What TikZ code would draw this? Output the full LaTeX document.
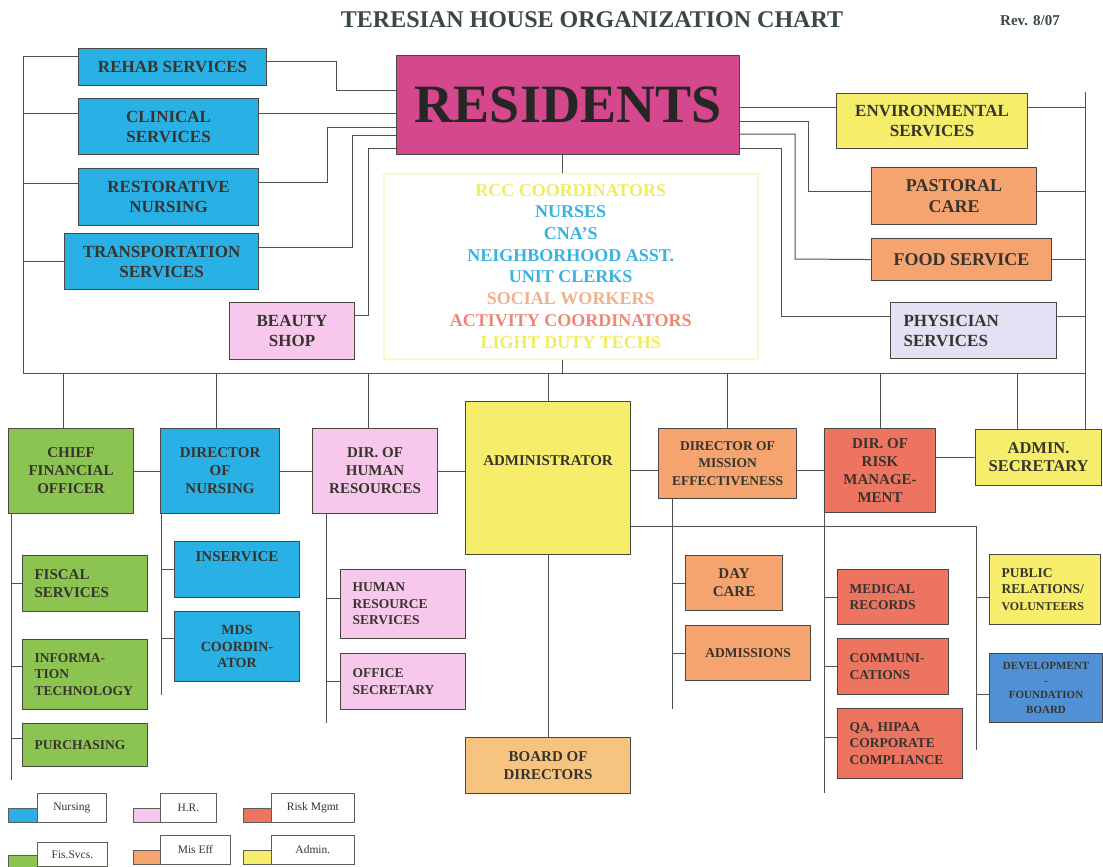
\documentclass[tikz,border=0pt]{standalone}
\usepackage{fontspec}
\setmainfont{Liberation Serif}
\definecolor{nurse}{RGB}{41,177,230}
\definecolor{fis}{RGB}{140,196,82}
\definecolor{hrpink}{RGB}{248,200,236}
\definecolor{admy}{RGB}{246,238,106}
\definecolor{miss}{RGB}{245,164,112}
\definecolor{risk}{RGB}{238,116,98}
\definecolor{resid}{RGB}{213,72,142}
\definecolor{physc}{RGB}{226,226,244}
\definecolor{boardc}{RGB}{247,196,128}
\definecolor{devblue}{RGB}{80,144,214}
\definecolor{ink}{RGB}{55,52,45}
\definecolor{wirec}{RGB}{80,80,80}
\definecolor{titlec}{RGB}{58,72,72}
\definecolor{listframe}{RGB}{248,248,205}
\definecolor{listy}{RGB}{238,236,96}
\definecolor{listb}{RGB}{56,178,226}
\definecolor{lists}{RGB}{240,176,140}
\definecolor{lista}{RGB}{238,134,118}
\tikzset{
  box/.style={draw=ink!90, line width=1.1pt, anchor=north west, inner xsep=4pt, inner ysep=0pt, align=center, text=ink, font=\bfseries\fontsize{15}{18}\selectfont},
  bigbox/.style={box, font=\bfseries\fontsize{17}{20}\selectfont},
  lbox/.style={box, align=left, inner xsep=12pt, font=\bfseries\fontsize{13.5}{16.5}\selectfont},
  wire/.style={draw=wirec, line width=1pt},
  keybox/.style={draw=ink!80, line width=0.8pt, anchor=north west, inner sep=0pt, text=ink, font=\fontsize{11.5}{13}\selectfont}
}
\begin{document}
\begin{tikzpicture}[x=1pt,y=-1pt]
\useasboundingbox (0,0) rectangle (1103,867);

% title
\node[font=\bfseries\fontsize{24}{28}\selectfont, text=titlec] (title) at (592,20) {TERESIAN HOUSE ORGANIZATION CHART};
\node[font=\bfseries\fontsize{15}{18}\selectfont, text=titlec] (rev) at (1030,21) {Rev. 8/07};

% residents and the services round it
\node[box, fill=resid, minimum width=343pt, minimum height=99pt, text=black!85, font=\bfseries\fontsize{54}{60}\selectfont] (res) at (396,55) {RESIDENTS};
\node[bigbox, fill=nurse, minimum width=188pt, minimum height=37pt] (rehab) at (78,48) {REHAB SERVICES};
\node[bigbox, fill=nurse, minimum width=180pt, minimum height=56pt] (clin) at (78,98) {CLINICAL\\SERVICES};
\node[bigbox, fill=nurse, minimum width=180pt, minimum height=57pt] (resto) at (78,168) {RESTORATIVE\\NURSING};
\node[bigbox, fill=nurse, minimum width=194pt, minimum height=56pt] (trans) at (64,233) {TRANSPORTATION\\SERVICES};
\node[bigbox, fill=hrpink, minimum width=125pt, minimum height=57pt] (beauty) at (229,302) {BEAUTY\\SHOP};
\node[bigbox, fill=admy, minimum width=191pt, minimum height=55pt] (env) at (836,93) {ENVIRONMENTAL\\SERVICES};
\node[bigbox, fill=miss, minimum width=165pt, minimum height=57pt, font=\bfseries\fontsize{18}{21}\selectfont] (past) at (871,167) {PASTORAL\\CARE};
\node[bigbox, fill=miss, minimum width=180pt, minimum height=42pt, font=\bfseries\fontsize{18}{21}\selectfont] (food) at (871,238) {FOOD SERVICE};
\node[lbox, fill=physc, inner xsep=13pt, text width=140pt, minimum height=56pt, font=\bfseries\fontsize{17}{20}\selectfont] (phys) at (890,302) {PHYSICIAN\\SERVICES};

% staff list
\node[draw=listframe, line width=1.5pt, anchor=north west, minimum width=374pt, minimum height=185pt, align=center, font=\bfseries\fontsize{18}{21.7}\selectfont] (staff) at (383,173)
  {\textcolor{listy}{RCC COORDINATORS}\\ \textcolor{listb}{NURSES}\\ \textcolor{listb}{CNA'S}\\ \textcolor{listb}{NEIGHBORHOOD ASST.}\\ \textcolor{listb}{UNIT CLERKS}\\ \textcolor{lists}{SOCIAL WORKERS}\\ \textcolor{lista}{ACTIVITY COORDINATORS}\\ \textcolor{listy}{LIGHT DUTY TECHS}};

% second row
\node[box, fill=fis, minimum width=125pt, minimum height=85pt] (cfo) at (8,428) {CHIEF\\FINANCIAL\\OFFICER};
\node[box, fill=nurse, minimum width=119pt, minimum height=85pt] (don) at (160,428) {DIRECTOR\\OF\\NURSING};
\node[box, fill=hrpink, minimum width=125pt, minimum height=85pt] (hr) at (312,428) {DIR. OF\\HUMAN\\RESOURCES};
\node[box, fill=admy, minimum width=165pt, minimum height=153pt, text height=10pt, text depth=35pt] (admin) at (465,401) {ADMINISTRATOR};
\node[box, fill=miss, minimum width=138pt, minimum height=70pt, font=\bfseries\fontsize{13.5}{17.5}\selectfont] (mis) at (658,428) {DIRECTOR OF\\MISSION\\EFFECTIVENESS};
\node[box, fill=risk, minimum width=111pt, minimum height=84pt] (riskm) at (824,428) {DIR. OF\\RISK\\MANAGE-\\MENT};
\node[box, fill=admy, minimum width=126pt, minimum height=56pt, font=\bfseries\fontsize{16.5}{18}\selectfont] (sec) at (975,429) {ADMIN.\\SECRETARY};

% third level
\node[lbox, fill=fis, text width=101pt, minimum height=56pt, font=\bfseries\fontsize{15}{18}\selectfont] (fisc) at (22,555) {FISCAL\\SERVICES};
\node[lbox, fill=fis, text width=101pt, minimum height=70pt] (it) at (22,639) {INFORMA-\\TION\\TECHNOLOGY};
\node[lbox, fill=fis, text width=101pt, minimum height=43pt] (purch) at (22,723) {PURCHASING};
\node[box, fill=nurse, minimum width=125pt, minimum height=56pt, text height=10pt, text depth=26pt] (inserv) at (174,541) {INSERVICE};
\node[box, fill=nurse, minimum width=125pt, minimum height=70pt, font=\bfseries\fontsize{14}{16.5}\selectfont] (mds) at (174,611) {MDS\\COORDIN-\\ATOR};
\node[lbox, fill=hrpink, text width=101pt, minimum height=69pt] (hrs) at (340,569) {HUMAN\\RESOURCE\\SERVICES};
\node[lbox, fill=hrpink, text width=101pt, minimum height=56pt] (office) at (340,653) {OFFICE\\SECRETARY};
\node[box, fill=boardc, minimum width=165pt, minimum height=56pt] (board) at (465,737) {BOARD OF\\DIRECTORS};
\node[box, fill=miss, minimum width=97pt, minimum height=55pt] (day) at (685,555) {DAY\\CARE};
\node[box, fill=miss, minimum width=125pt, minimum height=55pt, font=\bfseries\fontsize{13.5}{16.5}\selectfont] (admis) at (685,625) {ADMISSIONS};
\node[lbox, fill=risk, text width=87pt, minimum height=55pt] (med) at (837,569) {MEDICAL\\RECORDS};
\node[lbox, fill=risk, text width=87pt, minimum height=56pt] (comm) at (837,638) {COMMUNI-\\CATIONS};
\node[lbox, fill=risk, text width=101pt, minimum height=70pt] (qa) at (837,708) {QA, HIPAA\\CORPORATE\\COMPLIANCE};
\node[lbox, fill=admy, text width=87pt, minimum height=70pt] (pr) at (989,554) {PUBLIC\\RELATIONS/\\{\fontsize{12}{15}\selectfont VOLUNTEERS}};
\node[box, fill=devblue, minimum width=113pt, minimum height=69pt, font=\bfseries\fontsize{11}{14.5}\selectfont] (dev) at (989,653) {DEVELOPMENT\\-\\FOUNDATION\\BOARD};

% key
\node[keybox, fill=nurse, minimum width=29pt, minimum height=14pt] (knurse) at (8,808) {};
\node[keybox, minimum width=69pt, minimum height=29pt] (knursel) at (37,793) {Nursing};
\node[keybox, fill=hrpink, minimum width=27pt, minimum height=14pt] (khr) at (133,808) {};
\node[keybox, minimum width=56pt, minimum height=29pt] (khrl) at (160,793) {H.R.};
\node[keybox, fill=risk, minimum width=28pt, minimum height=14pt] (krisk) at (243,808) {};
\node[keybox, minimum width=83pt, minimum height=29pt] (kriskl) at (271,793) {Risk Mgmt};
\node[keybox, fill=fis, minimum width=29pt, minimum height=12pt] (kfis) at (8,855) {};
\node[keybox, minimum width=70pt, minimum height=24pt] (kfisl) at (37,842) {Fis.Svcs.};
\node[keybox, fill=miss, minimum width=27pt, minimum height=14pt] (kmis) at (133,850) {};
\node[keybox, minimum width=70pt, minimum height=29pt] (kmisl) at (160,835) {Mis Eff};
\node[keybox, fill=admy, minimum width=28pt, minimum height=14pt] (kadm) at (243,850) {};
\node[keybox, minimum width=83pt, minimum height=29pt] (kadml) at (271,835) {Admin.};

% buses
\coordinate (lbus) at (23,57);
\coordinate (bus) at (23,373);
\coordinate (rbus) at (1085,92);
\draw[wire] (lbus) -- (bus) -- (bus -| rbus);
\draw[wire] (rbus) -- (rbus |- sec.north);

% left services
\draw[wire] (lbus) -- (lbus -| rehab.west);
\draw[wire] (lbus |- 0,113) -- (clin.west |- 0,113);
\draw[wire] (lbus |- 0,183) -- (resto.west |- 0,183);
\draw[wire] (lbus |- trans.west) -- (trans.west);
\draw[wire] (rehab.east |- 0,62) -| (336,90) -- (res.west |- 0,90);
\draw[wire] (clin.east |- 0,113) -- (res.west |- 0,113);
\draw[wire] (resto.east |- 0,182) -| (327,127) -- (res.west |- 0,127);
\draw[wire] (trans.east |- 0,247) -| (352,135) -- (res.west |- 0,135);
\draw[wire] (beauty.east |- 0,315) -| (368,148) -- (res.west |- 0,148);

% right services
\draw[wire] (res.east |- 0,107) -- (env.west |- 0,107);
\draw[wire] (env.east |- 0,107) -- (rbus |- 0,107);
\draw[wire] (res.east |- 0,121) -| (808,191) -- (past.west |- 0,191);
\draw[wire] (past.east |- 0,191) -- (rbus |- 0,191);
\draw[wire] (res.east |- 0,134) -| (795,259) -- (food.west);
\draw[wire] (food.east) -- (rbus |- food.east);
\draw[wire] (res.east |- 0,148) -| (781,316) -- (phys.west |- 0,316);
\draw[wire] (phys.east |- 0,316) -- (rbus |- 0,316);

% centre column
\draw[wire] (res.south -| 562,0) -- (staff.north -| 562,0);
\draw[wire] (staff.south -| 562,0) -- (bus -| 562,0);

% drops to second row
\draw[wire] (bus -| 63,0) -- (cfo.north -| 63,0);
\draw[wire] (bus -| 216,0) -- (don.north -| 216,0);
\draw[wire] (bus -| 368,0) -- (hr.north -| 368,0);
\draw[wire] (bus -| admin.north) -- (admin.north);
\draw[wire] (bus -| mis.north) -- (mis.north);
\draw[wire] (bus -| riskm.north) -- (riskm.north);
\draw[wire] (bus -| 1017,0) -- (sec.north -| 1017,0);
\draw[wire] (cfo) -- (don);
\draw[wire] (don) -- (hr);
\draw[wire] (hr.east) -- (hr.east -| admin.west);
\draw[wire] (admin.east |- 0,470) -- (mis.west |- 0,470);
\draw[wire] (mis.east |- riskm.west) -- (riskm.west);
\draw[wire] (riskm.east |- sec.west) -- (sec.west);

% finance
\coordinate (fbus) at (11,780);
\draw[wire] (cfo.south -| fbus) -- (fbus);
\draw[wire] (fbus |- fisc.west) -- (fisc.west);
\draw[wire] (fbus |- 0,666) -- (it.west |- 0,666);
\draw[wire] (fbus |- 0,738) -- (purch.west |- 0,738);

% nursing
\coordinate (nbus) at (161,695);
\draw[wire] (don.south -| nbus) -- (nbus);
\draw[wire] (nbus |- inserv.west) -- (inserv.west);
\draw[wire] (nbus |- 0,638) -- (mds.west |- 0,638);

% human resources
\coordinate (hbus) at (326,723);
\draw[wire] (hr.south -| hbus) -- (hbus);
\draw[wire] (hbus |- 0,598) -- (hrs.west |- 0,598);
\draw[wire] (hbus |- office.west) -- (office.west);

% administrator
\draw[wire] (admin) -- (board);
\coordinate (abus) at (976,750);
\draw[wire] (admin.east |- 0,526) -| (abus);
\draw[wire] (abus |- 0,597) -- (pr.west |- 0,597);
\draw[wire] (abus |- 0,694) -- (dev.west |- 0,694);

% mission
\coordinate (mbus) at (672,709);
\draw[wire] (mis.south -| mbus) -- (mbus);
\draw[wire] (mbus |- day.west) -- (day.west);
\draw[wire] (mbus |- admis.west) -- (admis.west);

% risk
\coordinate (rkbus) at (824,793);
\draw[wire] (riskm.south -| rkbus) -- (rkbus);
\draw[wire] (rkbus |- med.west) -- (med.west);
\draw[wire] (rkbus |- comm.west) -- (comm.west);
\draw[wire] (rkbus |- 0,737) -- (qa.west |- 0,737);
\end{tikzpicture}
\end{document}
